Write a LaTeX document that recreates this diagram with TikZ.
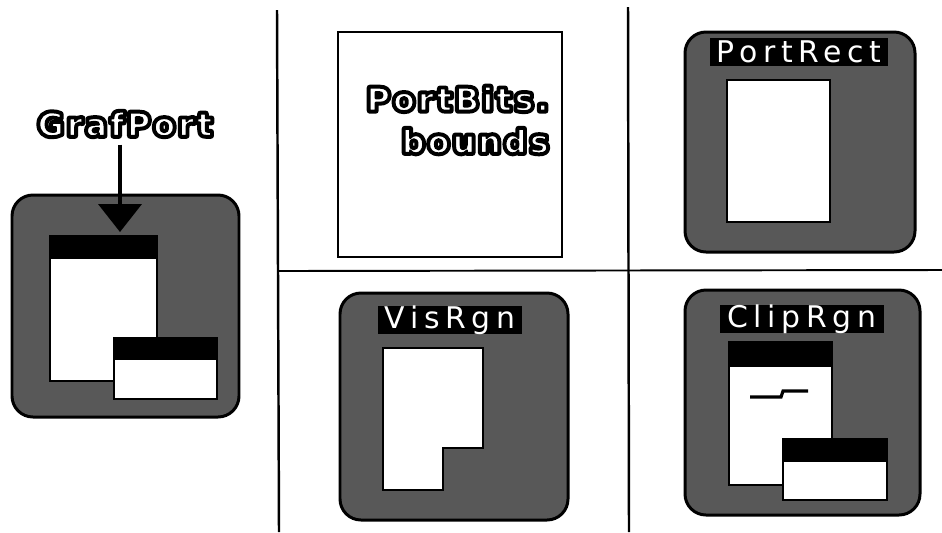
\documentclass[tikz,border=0pt]{standalone}
\usepackage{fontspec}
\usepackage{tikz}
\usetikzlibrary{arrows.meta,positioning}
\newfontfamily\outfont[LetterSpace=10]{DejaVu Sans}
\newfontfamily\tagfont[LetterSpace=19]{DejaVu Sans}
\definecolor{ink}{RGB}{0,0,0}
\definecolor{dither}{RGB}{88,88,88}
% white letters with a heavy black rim (fill and stroke text mode)
\newcommand{\outl}[1]{%
  \leavevmode
  \rlap{\color{ink}\special{pdf:code 2 Tr 3.4 w 1 j}#1\special{pdf:code 0 Tr}}%
  {\color{white}\special{pdf:code 2 Tr 1.1 w 0 G 1 j}#1\special{pdf:code 0 Tr}}}
\tikzset{
  gridline/.style={line width=1.4pt,draw=ink},
  panel/.style={draw=ink,line width=1.7pt,rounded corners=0.42cm,fill=dither},
  winbody/.style={draw=ink,line width=1.6pt,fill=white},
  winbar/.style={fill=ink},
  tag/.style={fill=ink,text=white,font=\tagfont\fontsize{17}{19}\selectfont,inner xsep=4pt,inner ysep=0pt,minimum height=16pt},
  outtext/.style={font=\outfont\bfseries\fontsize{18}{24}\selectfont,inner sep=0pt,align=right},
  pointer/.style={-{Triangle[width=8.6mm,length=5.6mm]},line width=2.3pt,draw=ink}
}

\begin{document}
\begin{tikzpicture}[x=0.02cm,y=-0.02cm]
  \useasboundingbox (0,0) rectangle (942,532);

  % dividing lines
  \draw[gridline] (277,10) -- (279,532);
  \draw[gridline] (628,7) -- (629,532);
  \draw[gridline,line width=1.1pt] (278,271) -- (942,270);

  % the GrafPort itself
  \draw[panel] (12,195) rectangle (239,417);
  \draw[winbody] (50,236) rectangle (157,381);
  \fill[winbar] (50,236) rectangle (157,259);
  \draw[winbody] (114,338) rectangle (217,399);
  \fill[winbar] (114,338) rectangle (217,360);
  \node[outtext] (grafport) at (125,124) {\outl{GrafPort}};
  \coordinate (tip) at (120,232);
  \draw[pointer,shorten <=1.6mm] (grafport.south -| tip) -- (tip);

  % PortBits.bounds
  \draw[ink,line width=1.1pt] (338,32) rectangle (562,257);
  \node[outtext,anchor=east] (bounds) at (549,120) {\outl{PortBits.}\\\outl{bounds}};

  % PortRect
  \draw[panel] (685,32) rectangle (915,252);
  \node[tag] (portrect) at (799,52) {PortRect};
  \draw[winbody] (727,80) rectangle (830,222);

  % VisRgn
  \draw[panel] (340,293) rectangle (568,520);
  \node[tag] (visrgn) at (450,320) {VisRgn};
  \draw[winbody] (383,348) -- (483,348) -- (483,448) -- (443,448)
    -- (443,490) -- (383,490) -- cycle;

  % ClipRgn
  \draw[panel] (685,290) rectangle (920,515);
  \node[tag] (cliprgn) at (802,319) {ClipRgn};
  \draw[winbody] (729,342) rectangle (832,485);
  \fill[winbar] (729,342) rectangle (832,367);
  \draw[ink,line width=1.8pt] (750,397) -- (781,397) -- (783,391) -- (808,391);
  \draw[winbody] (783,439) rectangle (887,500);
  \fill[winbar] (783,439) rectangle (887,462);
\end{tikzpicture}
\end{document}
